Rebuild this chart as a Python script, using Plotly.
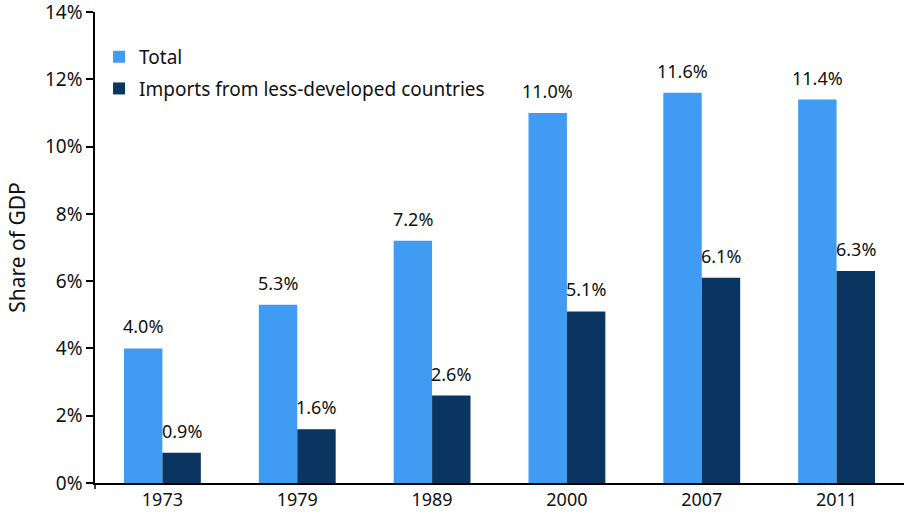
import plotly.graph_objects as go

years = ["1973", "1979", "1989", "2000", "2007", "2011"]
total = [4.0, 5.3, 7.2, 11.0, 11.6, 11.4]
imports_ldc = [0.9, 1.6, 2.6, 5.1, 6.1, 6.3]
y_ticks = [0, 2, 4, 6, 8, 10, 12, 14]
y_ticklabels = [f"{v}%" for v in y_ticks]

FONT = "Noto Sans"
W, H = 904, 520
M_L, M_R, M_T, M_B = 95, 0, 12, 37
BARGAP = 0.43

series = [
    ("Total", total, "#409CF2"),
    ("Imports from less-developed countries", imports_ldc, "#0A3561"),
]

fig = go.Figure()
for i, (name, vals, col) in enumerate(series):
    fig.add_trace(go.Bar(
        x=years, y=vals, name=name, legendgroup=f"g{i}",
        marker=dict(color=col, line=dict(width=0)),
        cliponaxis=False,
    ))

# value labels above bars, offset to each bar's centre
cat_px = (W - M_L - M_R) / len(years)
bar_px = cat_px * (1 - BARGAP) / len(series)
for i, (name, vals, col) in enumerate(series):
    xshift = (i - (len(series) - 1) / 2) * bar_px
    for j, v in enumerate(vals):
        fig.add_annotation(
            x=j, y=v, xref="x", yref="y", text=f"{v:.1f}%", showarrow=False,
            xanchor="center", yanchor="bottom", xshift=xshift, yshift=8,
            font=dict(family=FONT, size=18, color="#111111"),
        )

# small tick at the origin below the x axis, plus the axis stub to its left
plot_h = H - M_T - M_B
plot_w = W - M_L - M_R
fig.add_shape(type="line", xref="paper", yref="paper",
              x0=0, x1=0, y0=0, y1=-6 / plot_h,
              line=dict(color="black", width=1.5))
fig.add_shape(type="line", xref="paper", yref="paper",
              x0=-7 / plot_w, x1=0, y0=0, y1=0,
              line=dict(color="black", width=1.5))

fig.update_layout(
    width=W, height=H,
    margin=dict(l=M_L, r=M_R, t=M_T, b=M_B),
    paper_bgcolor="white", plot_bgcolor="white",
    barmode="group", bargap=BARGAP, bargroupgap=0,
    font=dict(family=FONT, size=17, color="#111111"),
    legend=dict(
        x=0.005, y=0.945, xanchor="left", yanchor="top",
        font=dict(family=FONT, size=19, color="#111111"),
        bgcolor="rgba(0,0,0,0)", itemwidth=30, tracegroupgap=4,
        traceorder="grouped",
    ),
    xaxis=dict(
        type="category", range=[-0.5, 5.5],
        showline=True, linecolor="black", linewidth=1.5,
        ticks="", showgrid=False, zeroline=False,
        tickfont=dict(family=FONT, size=18, color="#111111"),
    ),
    yaxis=dict(
        range=[0, 14.001], tickvals=y_ticks, ticktext=y_ticklabels,
        showline=True, linecolor="black", linewidth=1.5,
        ticks="outside", ticklen=7, tickcolor="black", tickwidth=1.5,
        showgrid=False, zeroline=False, ticklabeloverflow="allow",
        tickfont=dict(family=FONT, size=19, color="#111111"),
        title=dict(text="Share of GDP", font=dict(family=FONT, size=21, color="#111111"), standoff=14),
    ),
)

fig.write_html("out.html")
